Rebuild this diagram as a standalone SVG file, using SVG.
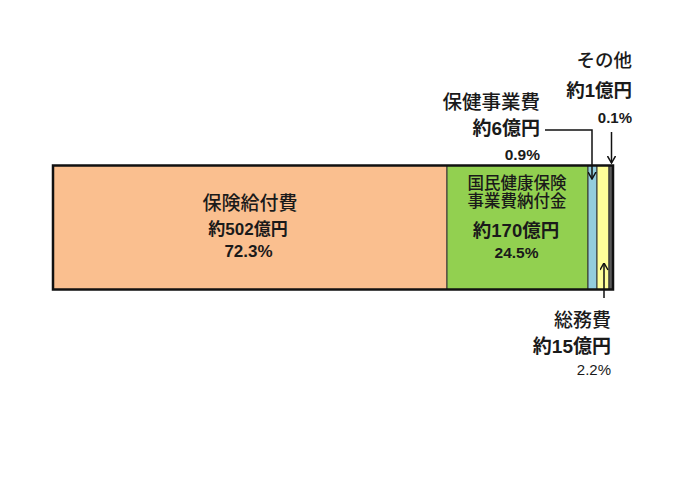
<svg xmlns="http://www.w3.org/2000/svg" width="700" height="495" viewBox="0 0 700 495">
<defs>
<style>
text{font-family:"Liberation Sans","Noto Sans CJK JP",sans-serif;fill:#1a1a1a}
.c{text-anchor:middle}
.e{text-anchor:end}
.m{font-weight:500}
.b{font-weight:bold}
.seg{stroke:#333;stroke-width:1}
.conn{fill:none;stroke:#111;stroke-width:1.5}
</style>
<marker id="arr" viewBox="0 0 8 9" refX="7.5" refY="4.5" markerWidth="8" markerHeight="9" markerUnits="userSpaceOnUse" orient="auto">
<path d="M0.5,0.5 L7.5,4.5 L0.5,8.5" fill="none" stroke="#111" stroke-width="1.5"/>
</marker>
</defs>
<rect width="700" height="495" fill="#fff"/>
<g id="hoken-kyufu">
<rect class="seg" x="53" y="165.5" width="394" height="124" fill="#FABF8F"/>
<text class="c m" x="250" y="210" font-size="19">保険給付費</text>
<text class="c b" x="248" y="235" font-size="17">約502億円</text>
<text class="c b" x="248.5" y="257" font-size="17">72.3%</text>
</g>
<g id="kokuho-nofukin">
<rect class="seg" x="447" y="165.5" width="141" height="124" fill="#92D050"/>
<text class="c m" x="517" y="189" font-size="16.5">国民健康保険</text>
<text class="c m" x="517" y="207" font-size="16.5">事業費納付金</text>
<text class="c b" x="516" y="237" font-size="18.5">約170億円</text>
<text class="c b" x="516.5" y="258" font-size="15.5">24.5%</text>
</g>
<g id="hoken-jigyo">
<rect class="seg" x="588" y="165.5" width="9" height="124" fill="#93CDDD"/>
<text class="e m" x="540" y="109" font-size="19.5">保健事業費</text>
<text class="e b" x="540" y="135" font-size="19">約6億円</text>
<text class="e b" x="540" y="160" font-size="15.5">0.9%</text>
</g>
<g id="somu">
<rect class="seg" x="597" y="165.5" width="12" height="124" fill="#FFFF99"/>
<text class="e m" x="611" y="327" font-size="19">総務費</text>
<text class="e b" x="611" y="353" font-size="19">約15億円</text>
<text class="e" x="611" y="375" font-size="15">2.2%</text>
</g>
<g id="sonota">
<rect class="seg" x="609" y="165.5" width="3.5" height="124" fill="#595959"/>
<text class="e m" x="632" y="67" font-size="18.5">その他</text>
<text class="e b" x="632" y="97" font-size="18.5">約1億円</text>
<text class="e b" x="632" y="123" font-size="15">0.1%</text>
</g>
<rect x="53" y="165.5" width="560" height="124" fill="none" stroke="#111" stroke-width="2.5"/>
<g id="connectors">
<polyline class="conn" points="545,130 592,130 592,179" marker-end="url(#arr)"/>
<line class="conn" x1="611.5" y1="132" x2="611.5" y2="163" marker-end="url(#arr)"/>
<line class="conn" x1="604" y1="298" x2="604" y2="263" marker-end="url(#arr)"/>
</g>
</svg>
